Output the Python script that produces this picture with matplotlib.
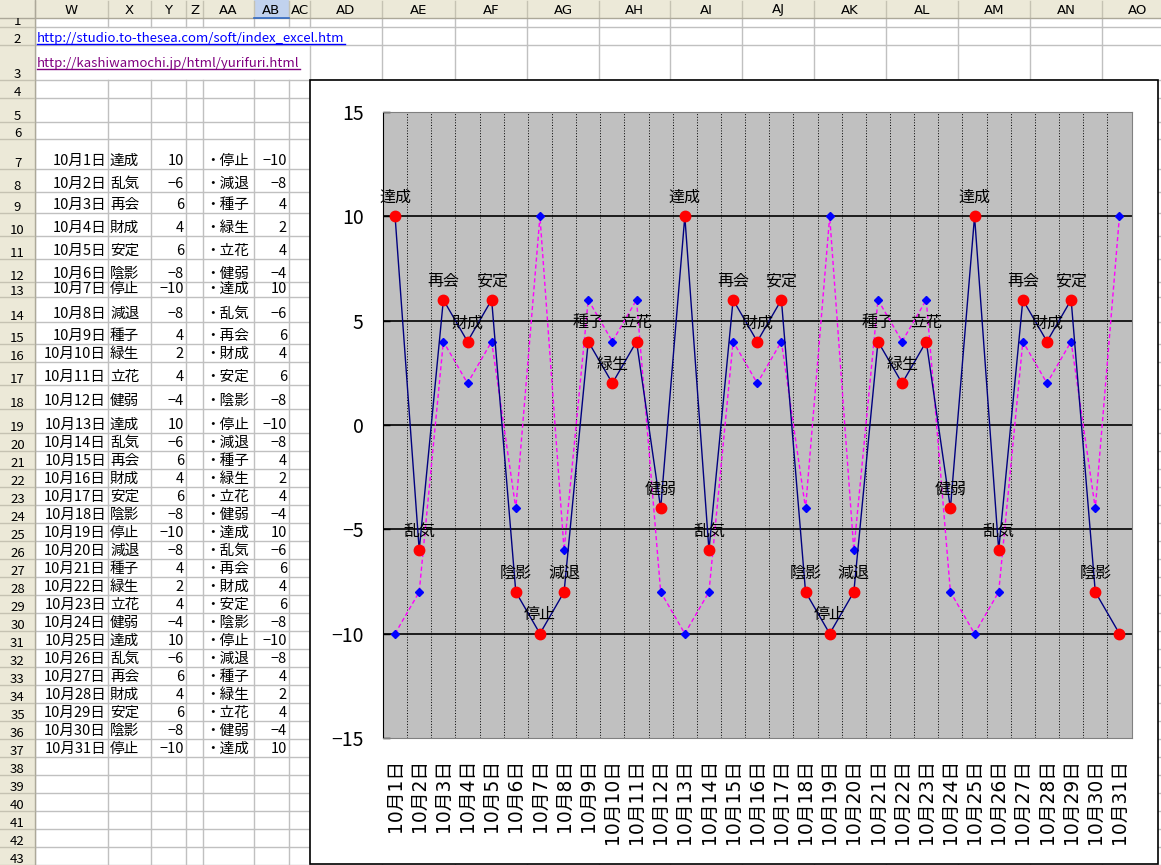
import matplotlib
matplotlib.use("Agg")
import matplotlib.pyplot as plt
from matplotlib.patches import Rectangle
from matplotlib.transforms import Bbox, TransformedBbox
import numpy as np

plt.rcParams['font.family'] = ['Noto Sans CJK JP', 'DejaVu Sans']

# data from the sheet (columns W, X, Y, AA, AB)
dates = ["10月1日", "10月2日", "10月3日", "10月4日", "10月5日", "10月6日", "10月7日",
         "10月8日", "10月9日", "10月10日", "10月11日", "10月12日", "10月13日", "10月14日",
         "10月15日", "10月16日", "10月17日", "10月18日", "10月19日", "10月20日", "10月21日",
         "10月22日", "10月23日", "10月24日", "10月25日", "10月26日", "10月27日", "10月28日",
         "10月29日", "10月30日", "10月31日"]
names = ["達成", "乱気", "再会", "財成", "安定", "陰影", "停止", "減退", "種子", "緑生", "立花", "健弱",
         "達成", "乱気", "再会", "財成", "安定", "陰影", "停止", "減退", "種子", "緑生", "立花", "健弱",
         "達成", "乱気", "再会", "財成", "安定", "陰影", "停止"]
scores = [10, -6, 6, 4, 6, -8, -10, -8, 4, 2, 4, -4,
          10, -6, 6, 4, 6, -8, -10, -8, 4, 2, 4, -4,
          10, -6, 6, 4, 6, -8, -10]
rev_names = ["停止", "減退", "種子", "緑生", "立花", "健弱", "達成", "乱気", "再会", "財成", "安定", "陰影",
             "停止", "減退", "種子", "緑生", "立花", "健弱", "達成", "乱気", "再会", "財成", "安定", "陰影",
             "停止", "減退", "種子", "緑生", "立花", "健弱", "達成"]
rev_scores = [-10, -8, 4, 2, 4, -4, 10, -6, 6, 4, 6, -8,
              -10, -8, 4, 2, 4, -4, 10, -6, 6, 4, 6, -8,
              -10, -8, 4, 2, 4, -4, 10]
# the chart shows names above the points for the first 30 days only
n_labelled = 30

link1 = "http://studio.to-thesea.com/soft/index_excel.htm"
link2 = "http://kashiwamochi.jp/html/yurifuri.html"
col_letters = ["W", "X", "Y", "Z", "AA", "AB", "AC", "AD", "AE", "AF", "AG",
               "AH", "AI", "AJ", "AK", "AL", "AM", "AN", "AO"]

# sheet layout in pixels
W, H = 1161, 865
col_edges = [35, 108, 151, 186, 203, 254, 289, 310, 382, 455, 527, 599,
             670, 742, 814, 886, 958, 1030, 1102, 1174]
row_bottoms = [27, 45, 80, 98, 122, 139, 169, 192, 213, 236, 259, 282, 297,
               322, 344, 362, 385, 409, 433, 451]
while len(row_bottoms) < 43:
    row_bottoms.append(row_bottoms[-1] + 18)
head_h = 18
grid_c = '#C0C0C0'
head_fc = '#ECE9D8'
sep_c = '#C5C2B2'
dark_c = '#ACA899'

fig = plt.figure(figsize=(W / 100, H / 100), dpi=100)
bg = fig.add_axes([0, 0, 1, 1])
bg.set_xlim(0, W)
bg.set_ylim(H, 0)
bg.axis('off')

# cell grid
row_tops = [head_h] + row_bottoms[:-1]
for r, (top, bot) in enumerate(zip(row_tops, row_bottoms), start=1):
    for e in col_edges:
        if r == 2 and 35 < e < 382:
            continue
        if r == 3 and 35 < e < 300:
            continue
        bg.plot([e, e], [top, bot], color=grid_c, lw=1, zorder=1)
for b in row_bottoms:
    bg.plot([35, W], [b, b], color=grid_c, lw=1, zorder=1)

# headers
bg.add_patch(Rectangle((0, 0), W, head_h, fc=head_fc, ec='none', zorder=2))
bg.add_patch(Rectangle((0, head_h), 35, H, fc=head_fc, ec='none', zorder=2))
bg.add_patch(Rectangle((254, 0), 35, head_h, fc='#C1D2EE', ec='none', zorder=2))
for e in col_edges:
    bg.plot([e, e], [1, head_h - 1], color=sep_c, lw=1, zorder=3)
bg.plot([0, W], [head_h, head_h], color=dark_c, lw=1, zorder=3)
bg.plot([254, 289], [head_h, head_h], color='#316AC5', lw=1.2, zorder=3)
bg.plot([35, 35], [0, H], color=dark_c, lw=1, zorder=3)
for b in row_bottoms:
    bg.plot([0, 34], [b, b], color=sep_c, lw=1, zorder=3)
for i, letter in enumerate(col_letters):
    cx = (col_edges[i] + col_edges[i + 1]) / 2
    bg.text(cx, 10, letter, ha='center', va='center', fontsize=9.5, family='DejaVu Sans', zorder=4)
for r, (top, bot) in enumerate(zip(row_tops, row_bottoms), start=1):
    t = bg.text(17.5, bot - 2, str(r), ha='center', va='baseline', fontsize=9.5, zorder=4)
    t.set_clip_box(TransformedBbox(Bbox([[0, top], [35, bot]]), bg.transData))
    t.set_clip_on(True)

# links
t1 = bg.text(37, 42, link1, color='#0000FF', fontsize=9.5, va='baseline', zorder=4)
t2 = bg.text(37, 67, link2, color='#800080', fontsize=9.5, va='baseline', zorder=4)
fig.canvas.draw()
inv = bg.transData.inverted()
for t, y, c in [(t1, 44, '#0000FF'), (t2, 69, '#800080')]:
    ext = t.get_window_extent()
    x0 = inv.transform((ext.x0, ext.y0))[0]
    x1 = inv.transform((ext.x1, ext.y0))[0]
    bg.plot([x0, x1], [y, y], color=c, lw=1, zorder=4)

# table values
def fmt(v):
    return str(v).replace('-', '\u2212')

for i in range(len(dates)):
    yb = row_bottoms[6 + i] - 4
    bg.text(106, yb, dates[i], ha='right', va='baseline', fontsize=10.5, zorder=4)
    bg.text(110, yb, names[i], ha='left', va='baseline', fontsize=10.5, zorder=4)
    bg.text(184, yb, fmt(scores[i]), ha='right', va='baseline', fontsize=10.5, zorder=4)
    bg.text(205, yb, '・' + rev_names[i], ha='left', va='baseline', fontsize=10.5, zorder=4)
    bg.text(287, yb, fmt(rev_scores[i]), ha='right', va='baseline', fontsize=10.5, zorder=4)

# chart frame
bg.add_patch(Rectangle((310, 80), 848, 784, fc='white', ec='black', lw=1.2, zorder=5))

# chart plot area
pl, pr, pt, pb = 383, 1131.5, 112, 738
ax = fig.add_axes([pl / W, (H - pb) / H, (pr - pl) / W, (pb - pt) / H])
ax.set_facecolor('#C0C0C0')
x = np.arange(1, len(dates) + 1)
ax.set_xlim(0.5, len(dates) + 0.5)
ax.set_ylim(-15, 15)

for b in np.arange(1.5, len(dates), 1):
    ax.axvline(b, color='black', ls=(0, (1, 1.8)), lw=0.7, zorder=1)
for yv in range(-10, 15, 5):
    ax.axhline(yv, color='black', lw=1.2, zorder=1)

ax.plot(x, rev_scores, color='#FF00FF', ls=(0, (3, 2)), lw=1, marker='D', ms=4.2,
        mfc='#0000FF', mec='#0000FF', zorder=3)
ax.plot(x, scores, color='#000080', lw=1, marker='o', ms=7.5,
        mfc='#FF0000', mec='#FF0000', zorder=4)
for xi, yi, n in zip(x[:n_labelled], scores[:n_labelled], names[:n_labelled]):
    ax.annotate(n, (xi, yi), xytext=(0, 13.5), textcoords='offset points',
                ha='center', va='center', fontsize=11.5, zorder=5)

ax.set_yticks(range(-15, 16, 5))
ax.tick_params(axis='y', direction='in', length=5, width=1, pad=14, labelsize=14)
ax.set_xticks(x)
ax.set_xticklabels(dates, rotation=90, fontsize=13.5, family=['DejaVu Sans', 'Noto Sans CJK JP'])
ax.tick_params(axis='x', length=0, pad=15)
ax.spines['left'].set_color('black')
for s in ['top', 'right', 'bottom']:
    ax.spines[s].set_color('#808080')

fig.savefig('out.png', dpi=100)
